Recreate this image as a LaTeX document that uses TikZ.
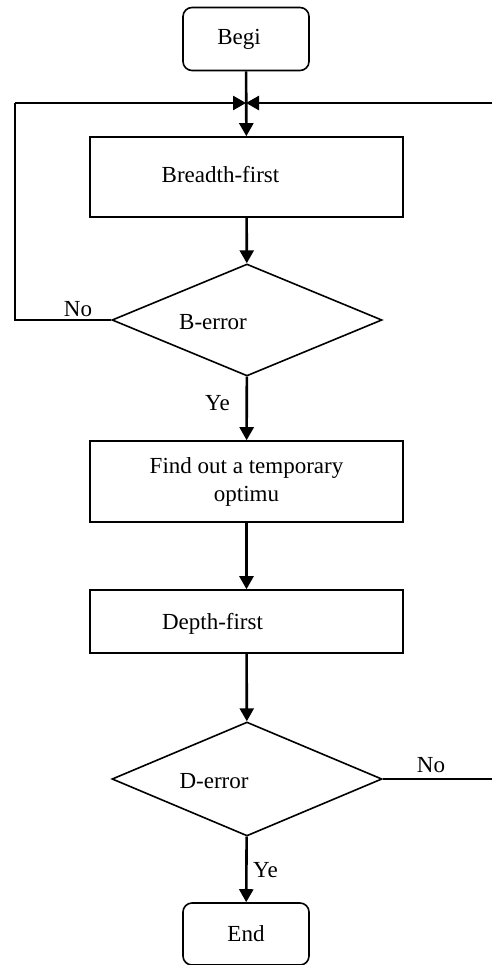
\documentclass[tikz,border=0pt]{standalone}
\usepackage{fontspec}
\setmainfont{Liberation Serif}
\usetikzlibrary{shapes.geometric,arrows.meta}

\begin{document}
\begin{tikzpicture}[x=1pt,y=-1pt,
  font=\fontsize{23}{28}\selectfont,
  proc/.style={draw=black,line width=1.6pt,rectangle,minimum width=313pt,inner sep=0pt},
  term/.style={draw=black,line width=1.6pt,rectangle,rounded corners=9pt,minimum width=126pt,minimum height=63pt,inner sep=0pt},
  test/.style={draw=black,line width=1.6pt,diamond,minimum width=270pt,minimum height=112pt,inner sep=0pt},
  flow/.style={draw=black,line width=2.6pt,-{Triangle[length=13pt,width=14pt]}},
  back/.style={draw=black,line width=1.8pt}]
\useasboundingbox (0,0) rectangle (492,965);
\node [term,label={[xshift=-7pt]center:Begi}] (q_bgn) at (246,39) {};
\node [proc,minimum height=80pt,label={[xshift=-26pt,yshift=2pt]center:Breadth-first}] (q_brd) at (246.5,177) {};
\node [test,label={[xshift=-34pt,yshift=-2pt]center:B-error}] (q_berr) at (247,320) {};
\node [proc,minimum height=81pt,align=center] (q_fnd) at (246.5,481.5) {Find out a temporary\\optimu};
\node [proc,minimum height=63pt,label={[xshift=-34pt,yshift=-2pt]center:Depth-first}] (q_dep) at (246.5,621.5) {};
\node [test,minimum height=114pt,label={[xshift=-33pt,yshift=-2pt]center:D-error}] (q_derr) at (247,779) {};
\node [term,minimum height=62pt] (q_end) at (246,934) {End};
\coordinate (q_j) at (246,103);
\coordinate (q_lc) at (15,320);
\coordinate (q_lt) at (15,103);
\coordinate (q_rt) at (492,103);
\coordinate (q_dr) at (492,779);
\draw [flow] (q_bgn) -- (q_brd);
\draw [flow] (q_lt) -- (q_j);
\draw [flow] (q_rt) -- (q_j);
\draw [flow] (q_brd) -- (q_berr);
\draw [back] (q_berr.west) -- (q_lc) -- (q_lt);
\draw [flow] (q_berr) -- (q_fnd);
\draw [flow] (q_fnd) -- (q_dep);
\draw [flow] (q_dep) -- (q_derr);
\draw [flow] (q_derr) -- (q_end);
\draw [back,line width=2.4pt] (q_derr.east) -- (q_dr);
\node (q_no1) at (78,309) {No};
\node (q_ye1) at (217.5,403) {Ye};
\node (q_no2) at (431,765) {No};
\node (q_ye2) at (265.5,870) {Ye};
\end{tikzpicture}
\end{document}
